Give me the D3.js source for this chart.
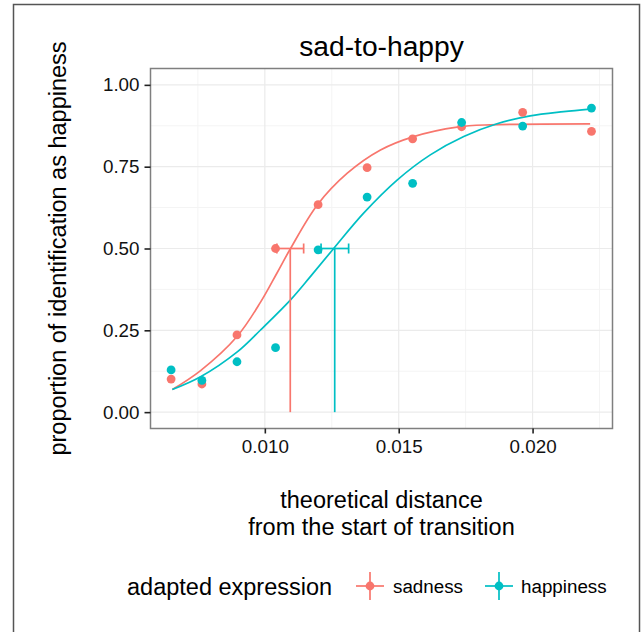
<!DOCTYPE html>
<html>
<head>
<meta charset="utf-8">
<script src="https://cdn.jsdelivr.net/npm/d3@7"></script>
<style>
  body { margin: 0; background: #fff; }
  text { font-family: "Liberation Sans", Arial, sans-serif; }
</style>
</head>
<body>
<svg width="641" height="632"></svg>
<script>
// observed proportions per morph step
const distance = [0.0065, 0.00765, 0.00896, 0.0104, 0.01199, 0.01382, 0.01552, 0.01735, 0.01963, 0.0222];
const sadnessProp = [0.101, 0.086, 0.236, 0.500, 0.634, 0.747, 0.835, 0.872, 0.916, 0.858];
const happinessProp = [0.129, 0.097, 0.154, 0.197, 0.496, 0.657, 0.699, 0.885, 0.874, 0.929];

// fitted curves
const sadnessFitX = [0.006545, 0.0076, 0.00897, 0.00984, 0.01046, 0.01096, 0.01196, 0.01308, 0.01432, 0.01556, 0.01718, 0.01842, 0.02215];
const sadnessFitY = [0.069, 0.127, 0.232, 0.336, 0.426, 0.500, 0.633, 0.730, 0.801, 0.842, 0.871, 0.878, 0.881];
const happinessFitX = [0.006545, 0.0076, 0.00897, 0.00984, 0.01096, 0.0117, 0.01258, 0.01369, 0.01494, 0.01618, 0.01743, 0.01867, 0.01991, 0.02116, 0.02215];
const happinessFitY = [0.069, 0.108, 0.184, 0.251, 0.343, 0.414, 0.501, 0.608, 0.709, 0.786, 0.842, 0.881, 0.905, 0.918, 0.926];

// 50% points with interval
const pseName = ['sadness', 'happiness'];
const pseMid = [0.01095, 0.01261];
const pseLow = [0.01045, 0.0121];
const pseHigh = [0.01145, 0.01313];

const colors = ['#F8766D', '#00BFC4'];
const xTicks = [0.010, 0.015, 0.020];
const xMinor = [0.0075, 0.0125, 0.0175, 0.0225];
const yTicks = [0, 0.25, 0.5, 0.75, 1];
const yMinor = [0.125, 0.375, 0.625, 0.875];

const base = 23.5;
const svg = d3.select('svg');
const panel = { left: 150.5, top: 68.5, right: 612.5, bottom: 428.5 };

const x = d3.scaleLinear().domain([0.00573, 0.022985]).range([panel.left, panel.right]);
const y = d3.scaleLinear().domain([-0.05, 1.05]).range([panel.bottom, panel.top]);

// outer frame
svg.append('rect')
  .attr('x', 13.5).attr('y', 4.5).attr('width', 626).attr('height', 700)
  .attr('fill', 'none').attr('stroke', '#555').attr('stroke-width', 1.5);

// grid
const grid = svg.append('g');
grid.selectAll('.xminor').data(xMinor).enter().append('line')
  .attr('x1', (d) => x(d)).attr('x2', (d) => x(d))
  .attr('y1', panel.top).attr('y2', panel.bottom)
  .attr('stroke', '#f4f4f4').attr('stroke-width', 1);
grid.selectAll('.yminor').data(yMinor).enter().append('line')
  .attr('y1', (d) => y(d)).attr('y2', (d) => y(d))
  .attr('x1', panel.left).attr('x2', panel.right)
  .attr('stroke', '#f4f4f4').attr('stroke-width', 1);
grid.selectAll('.xmajor').data(xTicks).enter().append('line')
  .attr('x1', (d) => x(d)).attr('x2', (d) => x(d))
  .attr('y1', panel.top).attr('y2', panel.bottom)
  .attr('stroke', '#ebebeb').attr('stroke-width', 1.2);
grid.selectAll('.ymajor').data(yTicks).enter().append('line')
  .attr('y1', (d) => y(d)).attr('y2', (d) => y(d))
  .attr('x1', panel.left).attr('x2', panel.right)
  .attr('stroke', '#ebebeb').attr('stroke-width', 1.2);

// fitted curves
const line = d3.line().x((d) => x(d[0])).y((d) => y(d[1])).curve(d3.curveCatmullRom.alpha(0.5));
const fits = [
  d3.zip(sadnessFitX, sadnessFitY),
  d3.zip(happinessFitX, happinessFitY)
];
svg.selectAll('.fit').data(fits).enter().append('path')
  .attr('d', line)
  .attr('fill', 'none')
  .attr('stroke', (d, i) => colors[i])
  .attr('stroke-width', 1.7);

// points
[sadnessProp, happinessProp].forEach((vals, i) => {
  svg.append('g').selectAll('circle').data(vals).enter().append('circle')
    .attr('cx', (d, j) => x(distance[j]))
    .attr('cy', (d) => y(d))
    .attr('r', 4.4)
    .attr('fill', colors[i]);
});

// PSE lines and horizontal error bars
pseName.forEach((name, i) => {
  const g = svg.append('g').attr('stroke', colors[i]).attr('stroke-width', 1.7);
  g.append('line')
    .attr('x1', x(pseMid[i])).attr('x2', x(pseMid[i]))
    .attr('y1', y(0.5)).attr('y2', y(0));
  g.append('line')
    .attr('x1', x(pseLow[i])).attr('x2', x(pseHigh[i]))
    .attr('y1', y(0.5)).attr('y2', y(0.5));
  [pseLow[i], pseHigh[i]].forEach((v) => {
    g.append('line')
      .attr('x1', x(v)).attr('x2', x(v))
      .attr('y1', y(0.5) - 5).attr('y2', y(0.5) + 5);
  });
});

// panel border
svg.append('rect')
  .attr('x', panel.left).attr('y', panel.top)
  .attr('width', panel.right - panel.left).attr('height', panel.bottom - panel.top)
  .attr('fill', 'none').attr('stroke', '#7f7f7f').attr('stroke-width', 1.5);

// axes
const xAxis = svg.append('g')
  .attr('transform', `translate(0,${panel.bottom})`)
  .call(d3.axisBottom(x).tickValues(xTicks).tickFormat(d3.format('.3f')).tickSize(5).tickPadding(6));
const yAxis = svg.append('g')
  .attr('transform', `translate(${panel.left},0)`)
  .call(d3.axisLeft(y).tickValues(yTicks).tickFormat(d3.format('.2f')).tickSize(6).tickPadding(5));
[xAxis, yAxis].forEach((a) => {
  a.select('.domain').remove();
  a.selectAll('.tick line').attr('stroke', '#222').attr('stroke-width', 1.6);
  a.selectAll('.tick text')
    .attr('font-family', '"Liberation Sans", Arial, sans-serif')
    .attr('font-size', base * 0.8).attr('fill', '#111');
});

// titles
svg.append('text')
  .attr('x', (panel.left + panel.right) / 2).attr('y', 56)
  .attr('text-anchor', 'middle').attr('font-size', base * 1.2)
  .text('sad-to-happy');

svg.append('text')
  .attr('text-anchor', 'middle').attr('font-size', base)
  .attr('transform', `translate(66,${(panel.top + panel.bottom) / 2}) rotate(-90)`)
  .text('proportion of identification as happiness');

const xTitle = svg.append('text')
  .attr('text-anchor', 'middle').attr('font-size', base);
xTitle.append('tspan').attr('x', (panel.left + panel.right) / 2).attr('y', 508).text('theoretical distance');
xTitle.append('tspan').attr('x', (panel.left + panel.right) / 2).attr('y', 535).text('from the start of transition');

// legend
const legend = svg.append('g');
legend.append('text').attr('x', 127).attr('y', 595).attr('font-size', base).text('adapted expression');
const keyX = [370, 499];
const labelX = [393, 521];
pseName.forEach((name, i) => {
  const k = legend.append('g').attr('transform', `translate(${keyX[i]},586)`);
  k.append('line').attr('x1', -14).attr('x2', 14).attr('y1', 0).attr('y2', 0)
    .attr('stroke', colors[i]).attr('stroke-width', 1.7);
  k.append('line').attr('x1', 0).attr('x2', 0).attr('y1', -14).attr('y2', 14)
    .attr('stroke', colors[i]).attr('stroke-width', 1.7);
  k.append('circle').attr('r', 4.4).attr('fill', colors[i]);
  legend.append('text').attr('x', labelX[i]).attr('y', 593).attr('font-size', base * 0.8).text(name);
});
</script>
</body>
</html>
